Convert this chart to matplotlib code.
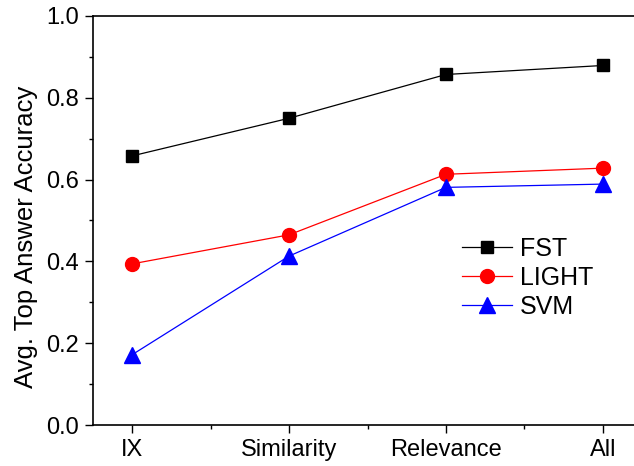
import matplotlib

matplotlib.use("Agg")
import matplotlib.pyplot as plt
from matplotlib.ticker import MultipleLocator

plt.rcParams["font.family"] = ["Liberation Sans", "DejaVu Sans"]

categories = ["IX", "Similarity", "Relevance", "All"]
fst = [0.658, 0.750, 0.857, 0.879]
light = [0.394, 0.465, 0.613, 0.628]
svm = [0.172, 0.413, 0.581, 0.589]

fig = plt.figure(figsize=(6.34, 4.66), dpi=100)
ax = fig.add_axes([93 / 634, 41 / 466, 549 / 634, 409 / 466])

x = range(len(categories))
ax.plot(x, fst, color="black", marker="s", markersize=9, linewidth=0.9, label="FST")
ax.plot(x, light, color="red", marker="o", markersize=10, linewidth=0.9, label="LIGHT")
ax.plot(x, svm, color="blue", marker="^", markersize=11, linewidth=0.9, label="SVM")

ax.set_xlim(-0.25, 3.25)
ax.set_ylim(0, 1.0)
ax.set_xticks(list(x))
ax.set_xticklabels(categories)
ax.xaxis.set_minor_locator(MultipleLocator(0.5))
ax.yaxis.set_major_locator(MultipleLocator(0.2))
ax.yaxis.set_minor_locator(MultipleLocator(0.1))
ax.yaxis.set_major_formatter(lambda v, p: f"{v:.1f}")
ax.tick_params(which="major", direction="out", length=6, width=1, labelsize=17, pad=4)
ax.tick_params(which="minor", direction="out", length=3, width=1)
ax.set_ylabel("Avg. Top Answer Accuracy", fontsize=18.5)
ax.yaxis.set_label_coords(-0.10, 0.46)
for s in ax.spines.values():
    s.set_linewidth(1.2)

ax.legend(loc="upper left", bbox_to_anchor=(0.632, 0.515), frameon=False,
          fontsize=18, handlelength=2.0, handletextpad=0.3, labelspacing=0.2)

fig.savefig("out.png", dpi=100)
